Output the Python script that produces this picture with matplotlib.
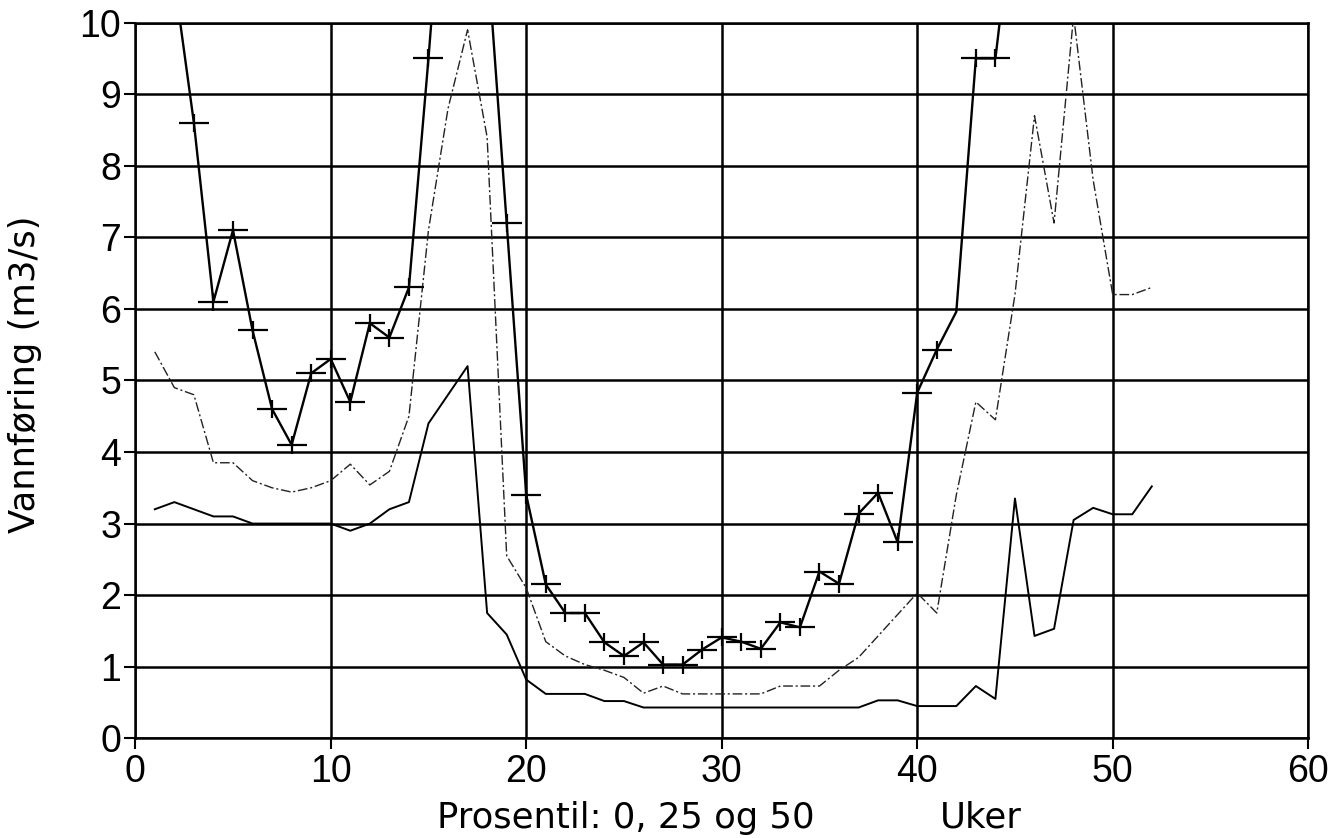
import matplotlib
matplotlib.use("Agg")
import matplotlib.pyplot as plt
from matplotlib.path import Path

plt.rcParams['font.family'] = ['Liberation Sans', 'DejaVu Sans']

weeks = list(range(1, 53))

p0 = [3.2, 3.3, 3.2, 3.1, 3.1, 3.0, 3.0, 3.0, 3.0, 3.0,
      2.9, 3.0, 3.2, 3.3, 4.4, 4.8, 5.2, 1.75, 1.45, 0.82,
      0.62, 0.62, 0.62, 0.52, 0.52, 0.43, 0.43, 0.43, 0.43, 0.43,
      0.43, 0.43, 0.43, 0.43, 0.43, 0.43, 0.43, 0.53, 0.53, 0.45,
      0.45, 0.45, 0.73, 0.55, 3.35, 1.43, 1.53, 3.05, 3.22, 3.13,
      3.13, 3.52]

p25 = [5.4, 4.9, 4.8, 3.85, 3.85, 3.6, 3.5, 3.44, 3.5, 3.6,
       3.83, 3.54, 3.73, 4.5, 7.1, 8.8, 9.9, 8.4, 2.55, 2.1,
       1.35, 1.15, 1.03, 0.95, 0.85, 0.63, 0.73, 0.62, 0.62, 0.62,
       0.62, 0.62, 0.73, 0.73, 0.73, 0.95, 1.13, 1.43, 1.73, 2.03,
       1.75, 3.4, 4.7, 4.45, 6.2, 8.7, 7.2, 10.1, 7.8, 6.2,
       6.2, 6.3]

p50 = [12.0, 10.6, 8.6, 6.1, 7.1, 5.7, 4.6, 4.1, 5.1, 5.3,
       4.7, 5.8, 5.6, 6.3, 9.5, 13.0, 13.5, 11.0, 7.2, 3.4,
       2.15, 1.75, 1.75, 1.34, 1.15, 1.34, 1.03, 1.03, 1.24, 1.41,
       1.35, 1.25, 1.62, 1.55, 2.33, 2.16, 3.14, 3.43, 2.74, 4.83,
       5.43, 5.96, 9.5, 9.5, 11.8, 14.0, 15.0, 15.0, 14.0, 13.0,
       13.0, 12.0]

x_ticks = [0, 10, 20, 30, 40, 50, 60]
y_ticks = list(range(0, 11))

fig = plt.figure(figsize=(13.39, 8.38), dpi=100)
ax = fig.add_axes([0.101, 0.119, 0.876, 0.854])

plus = Path([(-1, 0), (1, 0), (0, -0.6), (0, 0.6)],
            [Path.MOVETO, Path.LINETO, Path.MOVETO, Path.LINETO])

# the week-42 point has no marker in the original
marker_idx = [i for i in range(len(weeks)) if weeks[i] != 42]

ax.plot(weeks, p0, color='black', lw=1.4, zorder=3)
ax.plot(weeks, p25, color='#222222', lw=1.0, linestyle=(0, (7, 2, 1.5, 2)), zorder=3)
ax.plot(weeks, p50, color='black', lw=1.7, marker=plus, markersize=22,
        markeredgewidth=1.6, markevery=marker_idx, zorder=4)

ax.set_xlim(0, 60)
ax.set_ylim(0, 10)
ax.set_xticks(x_ticks)
ax.set_yticks(y_ticks)
ax.grid(True, color='black', lw=1.8, zorder=1)
for s in ax.spines.values():
    s.set_linewidth(1.8)
ax.tick_params(axis='both', direction='out', length=8, width=1.5,
               labelsize=27)
ax.tick_params(axis='x', pad=3)
ax.tick_params(axis='y', pad=2)

fig.text(0.019, 0.553, 'Vannføring (m3/s)', rotation=90, fontsize=25.5,
         family='DejaVu Sans', ha='center', va='center')
fig.text(0.326, 0.012, 'Prosentil: 0, 25 og 50', fontsize=25.5,
         family='DejaVu Sans', ha='left', va='baseline')
fig.text(0.702, 0.012, 'Uker', fontsize=25.5,
         family='DejaVu Sans', ha='left', va='baseline')

fig.savefig('out.png', dpi=100, facecolor='white')
